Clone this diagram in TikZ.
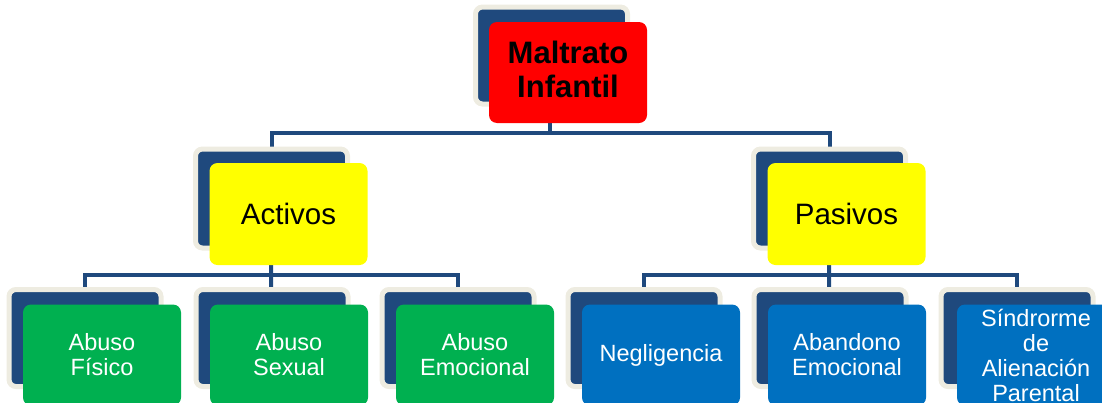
\documentclass[tikz,border=0pt]{standalone}
\usepackage{fontspec}
\setmainfont{Liberation Sans}
\usetikzlibrary{backgrounds}
\definecolor{navy}{HTML}{1F497D}
\definecolor{cream}{HTML}{EEECE1}
\definecolor{redbox}{HTML}{FF0000}
\definecolor{yellowbox}{HTML}{FFFF00}
\definecolor{greenbox}{HTML}{00B050}
\definecolor{bluebox}{HTML}{0070C0}
\tikzset{
  backbox/.style={draw=cream, line width=5pt, fill=navy, rounded corners=7pt,
    minimum width=152pt, minimum height=97pt, inner sep=0pt},
  frontbox/.style={rounded corners=8pt, minimum width=158pt, minimum height=101pt,
    inner sep=0pt, align=center},
  roottxt/.style={frontbox, fill=redbox, font=\fontsize{31}{34}\selectfont\bfseries, text=black},
  midtxt/.style={frontbox, fill=yellowbox, font=\fontsize{29.5}{34}\selectfont, text=black},
  greentxt/.style={frontbox, fill=greenbox, font=\fontsize{23.5}{25}\selectfont, text=white},
  bluetxt/.style={frontbox, fill=bluebox, font=\fontsize{23.5}{25}\selectfont, text=white},
  conn/.style={draw=navy, line width=4pt}
}
\begin{document}
\begin{tikzpicture}[x=1pt,y=-1pt]
\useasboundingbox (0,0) rectangle (1102,402);
% root
\node[backbox] (rootB) at (551.5,55.5) {};
\node[roottxt] (root) at (568,72.5) {};
\node[font=\fontsize{31}{34}\selectfont\bfseries, align=center, inner sep=0pt] (roottext) at (568,69.5) {Maltrato\\Infantil};
% mid
\node[backbox, minimum height=99pt] (actB) at (271.5,198.5) {};
\node[midtxt, minimum height=102pt] (act) at (288.5,214) {Activos};
\node[backbox, minimum height=99pt] (pasB) at (829.5,198.5) {};
\node[midtxt, minimum height=102pt] (pas) at (846.5,214) {Pasivos};
% bottom left
\node[backbox] (fisB) at (85,338) {};
\node[greentxt] (fis) at (102,355) {Abuso\\Físico};
\node[backbox] (sexB) at (272,338) {};
\node[greentxt] (sex) at (289,355) {Abuso\\Sexual};
\node[backbox] (emoB) at (458,338) {};
\node[greentxt] (emo) at (475,355) {Abuso\\Emocional};
% bottom right
\node[backbox] (negB) at (644,338) {};
\node[bluetxt] (neg) at (661,355) {Negligencia};
\node[backbox] (abaB) at (830,338) {};
\node[bluetxt] (aba) at (847,355) {Abandono\\Emocional};
\node[backbox] (sinB) at (1017,338) {};
\node[bluetxt] (sin) at (1036,355) {Síndrorme\\de\\Alienación\\Parental};
% bus coordinates
\coordinate (bus1) at (550,133);
\coordinate (bus2) at (271,275);
\coordinate (bus3) at (829,275);
\begin{scope}[on background layer]
\draw[conn] (rootB.center -| bus1) -- (bus1);
\draw[conn] (actB.center) |- (bus1) -| (pasB.center);
\draw[conn] (actB.center) -- (bus2);
\draw[conn] (fisB.center) |- (bus2) -| (emoB.center);
\draw[conn] (sexB.center) -- (bus2);
\draw[conn] (pasB.center) -- (bus3);
\draw[conn] (negB.center) |- (bus3) -| (sinB.center);
\draw[conn] (abaB.center) -- (bus3);
\end{scope}
\end{tikzpicture}
\end{document}
